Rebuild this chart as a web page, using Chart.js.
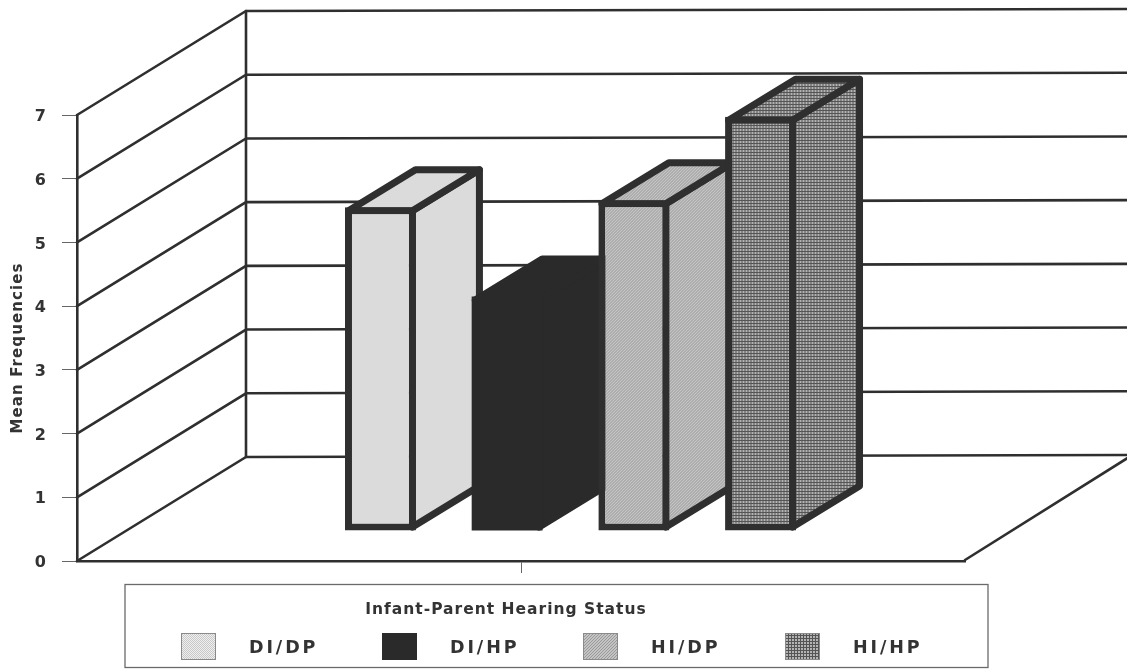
<!DOCTYPE html>
<html>
<head>
<meta charset="utf-8">
<style>html,body{margin:0;padding:0;background:#fff}canvas{display:block}</style>
<script src="https://cdn.jsdelivr.net/npm/chart.js@4/dist/chart.umd.min.js"></script>
</head>
<body>
<canvas id="c" width="1127" height="669"></canvas>
<script>
const categories = [''];
const seriesNames = ['DI/DP', 'DI/HP', 'HI/DP', 'HI/HP'];
const diDpValues = [5.08];
const diHpValues = [3.68];
const hiDpValues = [5.19];
const hiHpValues = [6.5];
const yAxisTitle = 'Mean Frequencies';
const legendTitle = 'Infant-Parent Hearing Status';

const INK = '#2f2f2f';
const FONT = '"DejaVu Sans", Arial, sans-serif';

function pattern(size, paint) {
  const p = document.createElement('canvas');
  p.width = p.height = size;
  paint(p.getContext('2d'));
  return document.createElement('canvas').getContext('2d').createPattern(p, 'repeat');
}
const fillDiDp = pattern(2, g => {
  g.fillStyle = '#efefef'; g.fillRect(0, 0, 2, 2);
  g.fillStyle = '#c8c8c8'; g.fillRect(0, 0, 1, 1); g.fillRect(1, 1, 1, 1);
});
const fillDiHp = '#2a2a2a';
const fillHiDp = pattern(3, g => {
  g.fillStyle = '#c4c4c4'; g.fillRect(0, 0, 3, 3);
  g.fillStyle = '#999999'; g.fillRect(2, 0, 1, 1); g.fillRect(1, 1, 1, 1); g.fillRect(0, 2, 1, 1);
});
const fillHiHp = pattern(3, g => {
  g.fillStyle = '#b4b4b4'; g.fillRect(0, 0, 3, 3);
  g.fillStyle = '#555555'; g.fillRect(2, 0, 1, 3); g.fillRect(0, 2, 3, 1);
});
const fills = [fillDiDp, fillDiHp, fillHiDp, fillHiHp];

const WALL_DX = 169, WALL_DY = -104;   // depth of the chart box
const SHIFT_X = 49.5, SHIFT_Y = -30;   // bars stand inside the box
const BAR_DX = 67, BAR_DY = -41;       // depth of each bar
const BORDER = 7;
const TILT = -2;

const boxPlugin = {
  id: 'box3d',
  beforeDatasetsDraw(chart) {
    const { ctx, scales: { x, y } } = chart;
    ctx.save();
    ctx.strokeStyle = INK;
    ctx.lineWidth = 2.6;
    ctx.lineCap = 'round';
    const xl = x.left, xr = x.right;
    for (let k = 0; k <= 7; k++) {
      const py = y.getPixelForValue(k);
      ctx.beginPath();
      ctx.moveTo(xl, py);
      ctx.lineTo(xl + WALL_DX, py + WALL_DY);
      ctx.lineTo(chart.width, py + WALL_DY + TILT);
      ctx.stroke();
    }
    const py0 = y.getPixelForValue(0), py7 = y.getPixelForValue(7);
    ctx.beginPath();
    ctx.moveTo(xl + WALL_DX, py7 + WALL_DY);
    ctx.lineTo(xl + WALL_DX, py0 + WALL_DY);
    ctx.moveTo(xr, py0 - 1);
    ctx.lineTo(xr + WALL_DX, py0 + WALL_DY + TILT - 1);
    ctx.stroke();
    ctx.restore();

    // bars: library elements, with side and top faces behind them, drawn left to right
    ctx.save();
    ctx.translate(SHIFT_X, SHIFT_Y);
    chart.getSortedVisibleDatasetMetas().forEach((meta, i) => {
      const bar = meta.data[0];
      const L = bar.x - bar.width / 2 + BORDER / 2;
      const R = bar.x + bar.width / 2 - BORDER / 2;
      const T = bar.y + BORDER / 2;
      const B = bar.base - BORDER / 2;
      ctx.lineWidth = BORDER;
      ctx.lineJoin = 'round';
      ctx.strokeStyle = i === 1 ? fillDiHp : INK;
      ctx.fillStyle = fills[i];
      ctx.beginPath();
      ctx.moveTo(R, T); ctx.lineTo(R + BAR_DX, T + BAR_DY);
      ctx.lineTo(R + BAR_DX, B + BAR_DY); ctx.lineTo(R, B); ctx.closePath();
      ctx.fill(); ctx.stroke();
      ctx.beginPath();
      ctx.moveTo(L, T); ctx.lineTo(L + BAR_DX, T + BAR_DY);
      ctx.lineTo(R + BAR_DX, T + BAR_DY); ctx.lineTo(R, T); ctx.closePath();
      ctx.fill(); ctx.stroke();
      bar.draw(ctx);
    });
    ctx.restore();
    return false;
  },
  afterDraw(chart) {
    const { ctx, data } = chart;
    ctx.save();
    // y axis title
    ctx.fillStyle = '#333333';
    ctx.font = 'bold 15px ' + FONT;
    ctx.letterSpacing = '1.1px';
    ctx.textAlign = 'center';
    ctx.textBaseline = 'middle';
    ctx.save();
    ctx.translate(18, 348);
    ctx.rotate(-Math.PI / 2);
    ctx.fillText(yAxisTitle, 0, 0);
    ctx.restore();
    // legend box
    ctx.strokeStyle = '#6a6a6a';
    ctx.lineWidth = 1.3;
    ctx.strokeRect(125, 584.5, 863, 83);
    ctx.font = 'bold 15.5px ' + FONT;
    ctx.letterSpacing = '1px';
    ctx.fillStyle = '#333333';
    ctx.fillText(legendTitle, 506, 609.5);
    ctx.font = 'bold 17.5px ' + FONT;
    ctx.letterSpacing = '2.9px';
    ctx.textAlign = 'left';
    const swatchX = [181, 382, 583, 785];
    data.datasets.forEach((ds, i) => {
      ctx.fillStyle = ds.backgroundColor;
      ctx.fillRect(swatchX[i], 633, 35, 27);
      ctx.strokeStyle = i === 1 ? '#2a2a2a' : '#8a8a8a';
      ctx.lineWidth = 1;
      ctx.strokeRect(swatchX[i] + .5, 633.5, 34, 26);
      ctx.fillStyle = '#333333';
      ctx.fillText(ds.label, swatchX[i] + 68, 648.5);
    });
    ctx.restore();
  }
};

const seriesValues = [diDpValues, diHpValues, hiDpValues, hiHpValues];

new Chart(document.getElementById('c'), {
  type: 'bar',
  data: {
    labels: categories,
    datasets: seriesNames.map((name, i) => ({
      label: name,
      data: seriesValues[i],
      backgroundColor: fills[i],
      borderColor: i === 1 ? fillDiHp : INK,
      borderWidth: i === 1 ? 0 : BORDER,
      borderSkipped: false,
      barPercentage: 0.56,
      categoryPercentage: 0.5707
    }))
  },
  options: {
    responsive: false,
    animation: false,
    events: [],
    layout: { padding: { left: 0, top: 115, right: 162, bottom: 108 } },
    plugins: { legend: { display: false }, tooltip: { enabled: false }, title: { display: false } },
    scales: {
      x: {
        afterFit(s) { s.height = 0; },
        ticks: { display: false },
        grid: { offset: false, drawOnChartArea: false, tickLength: 12, tickColor: '#666666', tickWidth: 1 },
        border: { color: INK, width: 2.6 }
      },
      y: {
        min: 0, max: 7,
        afterFit(s) {
          s.width = 77;
          if (!s._labelsNudged) {
            const draw = s.drawLabels;
            s.drawLabels = function (area) {
              this.ctx.save();
              this.ctx.translate(0, 2);
              draw.call(this, area);
              this.ctx.restore();
            };
            s._labelsNudged = true;
          }
        },
        ticks: {
          stepSize: 1, padding: 16, color: '#333333',
          font: { family: FONT, size: 16, weight: 'bold' }
        },
        grid: { drawOnChartArea: false, tickLength: 15, tickColor: '#666666', tickWidth: 1 },
        border: { color: INK, width: 2.6 }
      }
    }
  },
  plugins: [boxPlugin]
});
</script>
</body>
</html>
